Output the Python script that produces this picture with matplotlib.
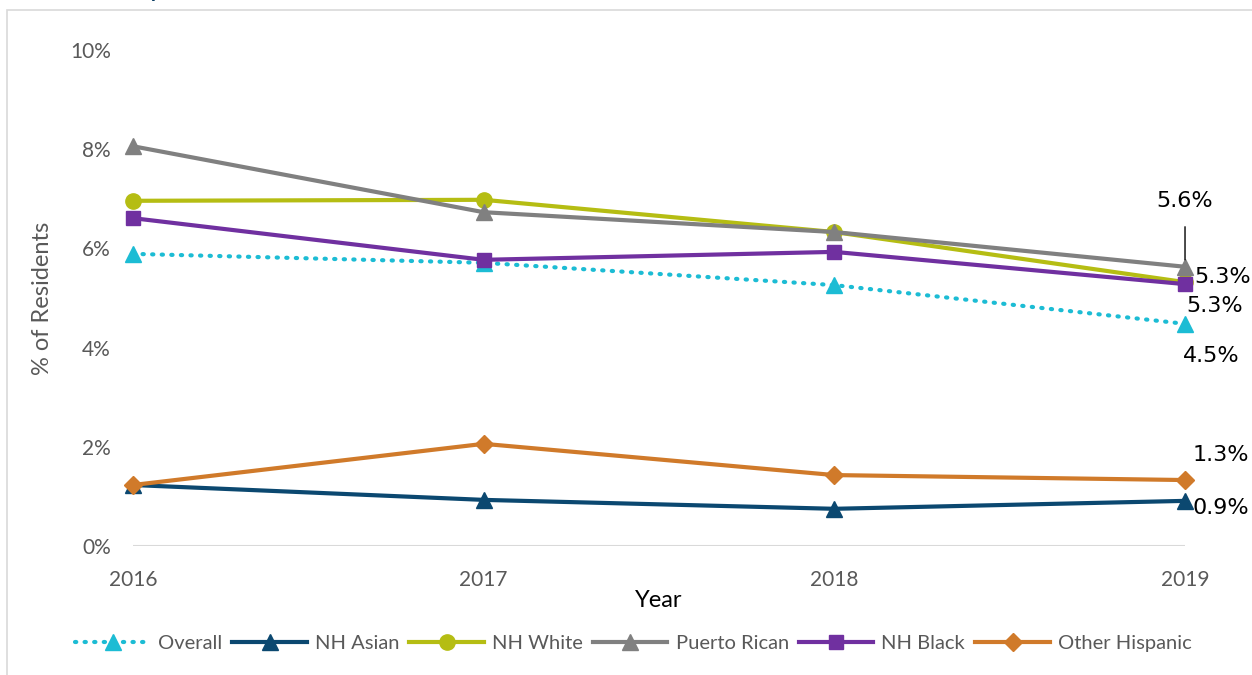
import matplotlib.pyplot as plt
from matplotlib.patches import Rectangle

years = [2016, 2017, 2018, 2019]
overall = [5.89, 5.71, 5.26, 4.48]
nh_asian = [1.23, 0.93, 0.75, 0.91]
nh_white = [6.96, 6.98, 6.33, 5.32]
puerto_rican = [8.06, 6.73, 6.33, 5.63]
nh_black = [6.61, 5.77, 5.93, 5.28]
other_hispanic = [1.23, 2.06, 1.43, 1.33]

fig = plt.figure(figsize=(12.52, 6.75), dpi=100)
fig.patches.append(Rectangle((0.0056, -0.1), 1.2, 1.085, transform=fig.transFigure,
                             fill=False, edgecolor='#D9D9D9', linewidth=1.2, zorder=0))
# fragment of the heading above the frame
fig.text(0.1245, 1.006, 'y', color='#0B3D63', fontsize=22, family='Lato',
         ha='center', va='baseline')

ax = fig.add_axes([0.1062, 0.1911, 0.8403, 0.7348])

lw = 3.0
ax.plot(years, overall, color='#1CBCD4', lw=lw, ls=(0, (0.3, 2.0)), dash_capstyle='round',
        marker='^', ms=11, label='Overall', clip_on=False, zorder=3)
ax.plot(years, nh_asian, color='#0B4870', lw=lw, marker='^', ms=11,
        label='NH Asian', clip_on=False, zorder=3)
ax.plot(years, nh_white, color='#B5BD13', lw=lw, marker='o', ms=11,
        label='NH White', clip_on=False, zorder=3)
ax.plot(years, puerto_rican, color='#808080', lw=lw, marker='^', ms=11,
        label='Puerto Rican', clip_on=False, zorder=3)
ax.plot(years, nh_black, color='#7030A0', lw=lw, marker='s', ms=10,
        label='NH Black', clip_on=False, zorder=4)
ax.plot(years, other_hispanic, color='#D07A2A', lw=lw, marker='D', ms=9,
        label='Other Hispanic', clip_on=False, zorder=3)

ax.set_xlim(2016, 2019)
ax.set_ylim(0, 10)
ax.set_xticks(years)
ax.set_yticks([0, 2, 4, 6, 8, 10])
ax.set_yticklabels(['%d%%' % v for v in [0, 2, 4, 6, 8, 10]])
for s in ax.spines.values():
    s.set_visible(False)
ax.axhline(0, color='#D9D9D9', lw=1.5, zorder=1)
ax.tick_params(length=0, labelsize=15, labelcolor='#595959')
ax.tick_params(axis='y', pad=16)
ax.tick_params(axis='x', pad=17)
for t in ax.get_xticklabels() + ax.get_yticklabels():
    t.set_family('Lato')

ax.set_xlabel('Year', fontsize=17, family='Lato', color='black', labelpad=0)
ax.set_ylabel('% of Residents', fontsize=17, family='Lato', color='#595959', labelpad=12)

# end-point value labels
lab = dict(fontsize=16, family='DejaVu Sans', color='black', ha='center', va='center',
           textcoords='offset points', annotation_clip=False)
ax.annotate('%.1f%%' % puerto_rican[-1], xy=(years[-1], puerto_rican[-1]), xytext=(0, 47),
            arrowprops=dict(arrowstyle='-', color='black', lw=1, shrinkA=9, shrinkB=5), **lab)
ax.annotate('%.1f%%' % nh_white[-1], xy=(years[-1], nh_white[-1]), xytext=(27, 4), **lab)
ax.annotate('%.1f%%' % nh_black[-1], xy=(years[-1], nh_black[-1]), xytext=(21, -16), **lab)
ax.annotate('%.1f%%' % overall[-1], xy=(years[-1], overall[-1]), xytext=(19, -23), **lab)
ax.annotate('%.1f%%' % other_hispanic[-1], xy=(years[-1], other_hispanic[-1]), xytext=(26, 18), **lab)
ax.annotate('%.1f%%' % nh_asian[-1], xy=(years[-1], nh_asian[-1]), xytext=(26, -5), **lab)

leg = fig.legend(loc='center', bbox_to_anchor=(0.506, 0.047), ncol=6, frameon=False,
                 handlelength=3.7, columnspacing=0.5, handletextpad=0.4,
                 prop={'family': 'Lato', 'size': 14.5})
for t in leg.get_texts():
    t.set_color('#595959')

fig.savefig('out.png', dpi=100)
